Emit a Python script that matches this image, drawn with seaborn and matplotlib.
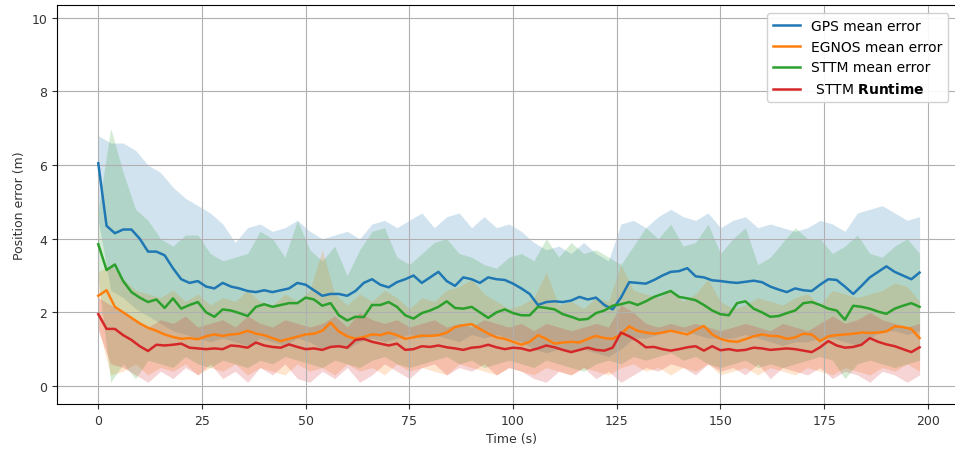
import matplotlib
matplotlib.use("Agg")
import matplotlib.pyplot as plt
import numpy as np
import seaborn as sns

# time axes (s)
t = np.arange(0, 200, 2)
t_band = np.arange(0, 199, 3)

# mean errors, one value every 2 s
gps_mean = [6.05, 4.35, 4.15, 4.25, 4.25, 4.0, 3.65, 3.65, 3.55, 3.2,
            2.9, 2.8, 2.85, 2.7, 2.65, 2.8, 2.7, 2.65, 2.58, 2.55,
            2.6, 2.55, 2.6, 2.65, 2.8, 2.75, 2.6, 2.45, 2.5, 2.5,
            2.45, 2.58, 2.8, 2.9, 2.75, 2.68, 2.82, 2.9, 3.0, 2.8,
            2.95, 3.1, 2.85, 2.72, 2.95, 2.9, 2.8, 2.95, 2.9, 2.88,
            2.78, 2.65, 2.5, 2.2, 2.28, 2.3, 2.28, 2.32, 2.42, 2.35,
            2.4, 2.2, 2.08, 2.4, 2.82, 2.8, 2.78, 2.88, 3.0, 3.1,
            3.12, 3.2, 2.98, 2.95, 2.87, 2.85, 2.82, 2.8, 2.83, 2.86,
            2.82, 2.7, 2.62, 2.55, 2.65, 2.6, 2.58, 2.75, 2.9, 2.88,
            2.7, 2.5, 2.72, 2.95, 3.1, 3.25, 3.1, 3.0, 2.9, 3.08]
egnos_mean = [2.45, 2.6, 2.15, 2.0, 1.85, 1.7, 1.58, 1.5, 1.4, 1.33,
              1.28, 1.3, 1.27, 1.35, 1.4, 1.36, 1.4, 1.42, 1.5, 1.42,
              1.38, 1.3, 1.22, 1.28, 1.34, 1.4, 1.42, 1.5, 1.72, 1.48,
              1.35, 1.28, 1.33, 1.4, 1.38, 1.45, 1.38, 1.28, 1.32, 1.37,
              1.36, 1.38, 1.45, 1.6, 1.65, 1.68, 1.55, 1.42, 1.32, 1.28,
              1.2, 1.12, 1.2, 1.38, 1.28, 1.15, 1.18, 1.2, 1.18, 1.28,
              1.36, 1.3, 1.28, 1.4, 1.62, 1.5, 1.45, 1.42, 1.45, 1.5,
              1.45, 1.4, 1.52, 1.63, 1.4, 1.28, 1.22, 1.2, 1.27, 1.35,
              1.4, 1.36, 1.35, 1.28, 1.32, 1.42, 1.4, 1.22, 1.35, 1.38,
              1.4, 1.42, 1.45, 1.44, 1.45, 1.48, 1.62, 1.6, 1.55, 1.3]
sttm_mean = [3.85, 3.15, 3.3, 2.85, 2.55, 2.4, 2.28, 2.35, 2.12, 2.38,
             2.1, 2.2, 2.28, 2.0, 1.88, 2.08, 2.05, 1.98, 1.9, 2.15,
             2.22, 2.15, 2.2, 2.25, 2.25, 2.4, 2.35, 2.18, 2.25, 1.92,
             1.78, 1.88, 1.87, 2.2, 2.2, 2.28, 2.15, 1.92, 1.83, 1.98,
             2.05, 2.15, 2.3, 2.12, 2.1, 2.15, 2.0, 1.85, 2.0, 2.08,
             1.98, 1.92, 1.92, 2.15, 2.12, 2.08, 1.95, 1.88, 1.8, 1.82,
             1.98, 2.05, 2.18, 2.22, 2.28, 2.2, 2.3, 2.42, 2.5, 2.58,
             2.42, 2.38, 2.33, 2.2, 2.05, 1.95, 1.92, 2.25, 2.3, 2.1,
             2.0, 1.88, 1.9, 1.98, 2.05, 2.25, 2.28, 2.2, 2.1, 2.05,
             1.8, 2.18, 2.15, 2.1, 2.02, 1.96, 2.1, 2.18, 2.25, 2.15]
runtime_mean = [1.95, 1.55, 1.55, 1.38, 1.25, 1.08, 0.95, 1.12, 1.1, 1.12,
                1.15, 1.04, 1.02, 1.0, 1.02, 1.0, 1.1, 1.08, 1.04, 1.18,
                1.1, 1.06, 1.04, 1.13, 1.06, 1.0, 1.02, 0.98, 1.06, 1.08,
                1.04, 1.25, 1.28, 1.2, 1.15, 1.1, 1.15, 0.98, 1.0, 1.08,
                1.06, 1.1, 1.05, 1.02, 0.98, 1.04, 1.06, 1.12, 1.05, 1.0,
                1.04, 1.02, 0.96, 1.02, 1.1, 1.05, 0.98, 0.92, 0.98, 1.04,
                0.98, 0.96, 1.04, 1.45, 1.35, 1.22, 1.05, 1.06, 1.0, 0.96,
                1.0, 1.05, 1.08, 0.96, 1.08, 0.97, 1.0, 0.96, 0.98, 1.04,
                1.02, 0.98, 1.0, 1.02, 1.0, 0.96, 0.92, 1.05, 1.22, 1.1,
                1.04, 1.06, 1.12, 1.3, 1.2, 1.13, 1.08, 1.0, 0.92, 1.05]

# spread bands, one value every 3 s
gps_hi = [6.8, 6.6, 6.6, 6.4, 6.0, 5.8, 5.4, 5.1, 4.9, 4.7, 4.4, 3.9, 4.3, 4.4,
          4.2, 4.3, 4.5, 4.2, 4.0, 4.1, 4.2, 4.0, 4.4, 4.5, 4.3, 4.5, 4.7, 4.3,
          4.6, 4.7, 4.3, 4.6, 4.3, 4.4, 4.2, 3.9, 3.7, 3.8, 3.6, 3.9, 3.6, 3.4,
          4.4, 4.5, 4.3, 4.6, 4.8, 4.6, 4.5, 4.7, 4.3, 4.5, 4.6, 4.3, 4.4, 4.3,
          4.2, 4.3, 4.5, 4.4, 4.2, 4.7, 4.8, 4.9, 4.7, 4.5, 4.6]
gps_lo = [4.5, 2.6, 2.4, 2.1, 1.9, 1.7, 1.5, 1.4, 1.3, 1.2, 1.3, 1.2, 1.1, 1.3,
          1.2, 1.1, 1.3, 1.2, 1.0, 1.1, 1.0, 1.2, 1.3, 1.2, 1.3, 1.4, 1.3, 1.4,
          1.3, 1.2, 1.4, 1.3, 1.4, 1.3, 1.2, 1.0, 0.9, 1.0, 0.9, 1.0, 0.9, 0.8,
          1.0, 1.3, 1.3, 1.4, 1.5, 1.5, 1.4, 1.3, 1.3, 1.3, 1.4, 1.3, 1.2, 1.1,
          1.2, 1.2, 1.3, 1.3, 1.2, 1.1, 1.3, 1.5, 1.5, 1.4, 1.5]
egnos_hi = [3.1, 3.3, 2.9, 2.6, 2.5, 2.4, 2.6, 2.3, 2.5, 2.2, 2.4, 2.3, 2.6, 2.3,
            2.2, 2.5, 2.3, 2.6, 3.7, 2.5, 2.2, 2.5, 2.3, 2.6, 2.4, 2.1, 2.4, 2.3,
            2.6, 2.7, 2.9, 2.5, 2.3, 2.1, 2.2, 2.4, 3.1, 2.2, 2.3, 2.1, 2.4, 2.3,
            3.3, 2.6, 2.5, 2.4, 2.6, 2.3, 2.5, 2.9, 2.3, 2.1, 2.2, 2.4, 2.3, 2.2,
            2.4, 2.5, 2.2, 2.6, 2.5, 2.4, 2.5, 2.6, 2.8, 2.7, 2.3]
egnos_lo = [1.6, 0.3, 0.4, 0.6, 0.3, 0.5, 0.4, 0.6, 0.3, 0.5, 0.4, 0.6, 0.3, 0.5,
            0.4, 0.3, 0.6, 0.4, 0.5, 0.3, 0.6, 0.4, 0.5, 0.3, 0.6, 0.4, 0.5, 0.4,
            0.3, 0.6, 0.5, 0.4, 0.3, 0.5, 0.4, 0.3, 0.5, 0.4, 0.3, 0.5, 0.4, 0.3,
            0.5, 0.6, 0.4, 0.5, 0.3, 0.5, 0.4, 0.6, 0.3, 0.4, 0.5, 0.3, 0.5, 0.4,
            0.3, 0.5, 0.4, 0.3, 0.5, 0.4, 0.3, 0.5, 0.4, 0.6, 0.4]
sttm_hi = [4.8, 7.0, 5.8, 4.8, 4.5, 4.0, 3.8, 4.1, 4.1, 3.6, 3.4, 3.5, 3.6, 4.2,
           4.0, 3.5, 4.5, 3.7, 3.4, 3.8, 3.0, 3.7, 4.2, 4.3, 3.5, 3.3, 3.6, 3.9,
           4.0, 3.6, 3.5, 3.3, 3.2, 3.5, 3.6, 3.4, 4.0, 3.5, 3.9, 3.6, 3.7, 3.5,
           3.3, 3.8, 4.3, 4.0, 4.4, 3.8, 3.9, 4.4, 3.6, 4.0, 4.3, 3.3, 3.5, 3.9,
           4.3, 4.0, 4.0, 3.6, 3.8, 4.1, 3.6, 3.5, 3.8, 4.0, 3.6]
sttm_lo = [2.9, 0.1, 0.6, 0.2, 0.7, 0.6, 0.5, 0.8, 0.6, 0.5, 0.7, 0.6, 0.5, 0.7,
           0.6, 0.8, 0.7, 0.6, 0.5, 0.7, 0.6, 0.5, 0.7, 0.8, 0.6, 0.5, 0.6, 0.7,
           0.8, 0.6, 0.7, 0.5, 0.6, 0.7, 0.6, 0.5, 0.7, 0.6, 0.5, 0.4, 0.6, 0.7,
           0.6, 0.8, 0.7, 0.8, 0.9, 0.7, 0.8, 0.6, 0.5, 0.6, 0.7, 0.5, 0.6, 0.5,
           0.6, 0.7, 0.8, 0.7, 0.2, 0.6, 0.7, 0.6, 0.5, 0.6, 0.7]
runtime_hi = [2.4, 2.2, 2.0, 1.8, 1.6, 1.8, 1.7, 1.9, 1.6, 1.7, 1.8, 1.6, 1.9, 1.7,
              1.6, 1.8, 1.7, 1.6, 1.7, 1.9, 1.6, 2.0, 1.8, 1.7, 1.8, 1.6, 1.7, 1.8,
              1.6, 1.7, 1.6, 1.8, 1.7, 1.6, 1.7, 1.5, 1.7, 1.6, 1.5, 1.6, 1.7, 1.6,
              2.2, 2.0, 1.7, 1.6, 1.7, 1.6, 1.7, 1.6, 1.5, 1.6, 1.7, 1.6, 1.5, 1.7,
              1.6, 1.5, 1.7, 1.9, 1.7, 1.8, 2.0, 1.8, 1.7, 1.6, 1.7]
runtime_lo = [1.5, 0.6, 0.5, 0.3, 0.1, 0.4, 0.2, 0.5, 0.3, 0.6, 0.2, 0.4, 0.1, 0.5,
              0.3, 0.6, 0.2, 0.1, 0.4, 0.2, 0.5, 0.1, 0.3, 0.6, 0.4, 0.2, 0.5, 0.6,
              0.3, 0.5, 0.4, 0.6, 0.3, 0.5, 0.4, 0.2, 0.1, 0.4, 0.3, 0.5, 0.2, 0.4,
              0.1, 0.3, 0.5, 0.4, 0.6, 0.5, 0.3, 0.6, 0.4, 0.5, 0.3, 0.6, 0.2, 0.5,
              0.4, 0.3, 0.5, 0.2, 0.4, 0.3, 0.1, 0.4, 0.3, 0.1, 0.3]

labels = ["GPS mean error", "EGNOS mean error", "STTM mean error",
          r" STTM $\mathbf{Runtime}$"]
colors = sns.color_palette("tab10", 4)

fig = plt.figure(figsize=(9.55, 4.52), dpi=100)
ax = fig.add_axes([57 / 955, 47 / 452, 908 / 955, 399 / 452])

series = [(gps_mean, gps_lo, gps_hi), (egnos_mean, egnos_lo, egnos_hi),
          (sttm_mean, sttm_lo, sttm_hi), (runtime_mean, runtime_lo, runtime_hi)]

for (m, lo, hi), c in zip(series, colors):
    ax.fill_between(t_band, lo, hi, color=c, alpha=0.2, linewidth=0)
for (m, lo, hi), c, lab in zip(series, colors, labels):
    sns.lineplot(x=t, y=m, color=c, linewidth=1.8, label=lab, ax=ax)

ax.set_xlim(-9.95, 208.95)
ax.set_ylim(-0.49, 10.35)
ax.set_xticks([0, 25, 50, 75, 100, 125, 150, 175, 200])
ax.set_yticks([0, 2, 4, 6, 8, 10])
ax.spines["right"].set_visible(False)
ax.grid(True, color="#b0b0b0", linewidth=0.8)
ax.tick_params(labelsize=9, colors="#333333")
ax.set_xlabel("Time (s)", fontsize=9, color="#333333")
ax.set_ylabel("Position error (m)", fontsize=9, color="#333333")
ax.legend(loc="upper left", bbox_to_anchor=(767 / 955, 1 - 14 / 452),
          bbox_transform=fig.transFigure, borderaxespad=0,
          fontsize=10, framealpha=0.9)

fig.savefig("out.png", dpi=100)
